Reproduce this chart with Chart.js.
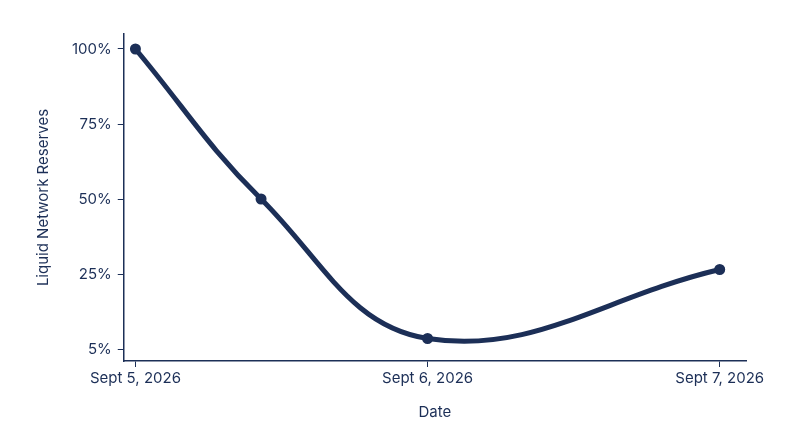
<!DOCTYPE html>
<html><head><meta charset="utf-8">
<script src="https://cdn.jsdelivr.net/npm/chart.js@4"></script>
<style>html,body{margin:0;background:#fff}#w{width:800px;height:447px}</style>
</head><body><div id="w"><canvas id="c"></canvas></div>
<script>
const dayPositions = [0, 0.43, 1, 2];
const reserves = [100, 50, 3.5, 26.5];
const xTickValues = [0, 1, 2];
const xTickLabels = ["Sept 5, 2026", "Sept 6, 2026", "Sept 7, 2026"];
const yTickValues = [0, 25, 50, 75, 100];
const yTickLabels = ["5%", "25%", "50%", "75%", "100%"];
const navy = '#1c2f57';
Chart.defaults.font.family = 'Inter, sans-serif';
Chart.defaults.font.size = 15;
Chart.defaults.color = navy;
new Chart(document.getElementById('c'), {
  type: 'line',
  data: { datasets: [{
    data: dayPositions.map((x, i) => ({x, y: reserves[i]})),
    borderColor: navy, backgroundColor: navy, borderWidth: 5,
    pointRadius: 3, tension: 0.4
  }]},
  options: {
    responsive: true, maintainAspectRatio: false, animation: false,
    layout: { padding: { top: 34, right: 54, bottom: 22, left: 30 } },
    plugins: { legend: { display: false }, tooltip: { enabled: false } },
    scales: {
      x: { type: 'linear', min: -0.04, max: 2.09,
        afterBuildTicks: s => { s.ticks = xTickValues.map(v => ({value: v})); },
        ticks: { callback: v => xTickLabels[xTickValues.indexOf(v)] ?? '', maxRotation: 0, color: navy, padding: 2 },
        grid: { drawOnChartArea: false, drawTicks: true, tickLength: 6, color: navy },
        border: { color: navy, width: 1.5 },
        title: { display: true, text: 'Date', color: navy, padding: { top: 14 } } },
      y: { min: -4, max: 105,
        afterBuildTicks: s => { s.ticks = yTickValues.map(v => ({value: v})); },
        ticks: { callback: v => yTickLabels[yTickValues.indexOf(v)] ?? '', color: navy, padding: 6 },
        grid: { drawOnChartArea: false, drawTicks: true, tickLength: 6, color: navy },
        border: { color: navy, width: 1.5 },
        title: { display: true, text: 'Liquid Network Reserves', color: navy, padding: { bottom: 14 } } }
    }
  }
});
</script></body></html>
